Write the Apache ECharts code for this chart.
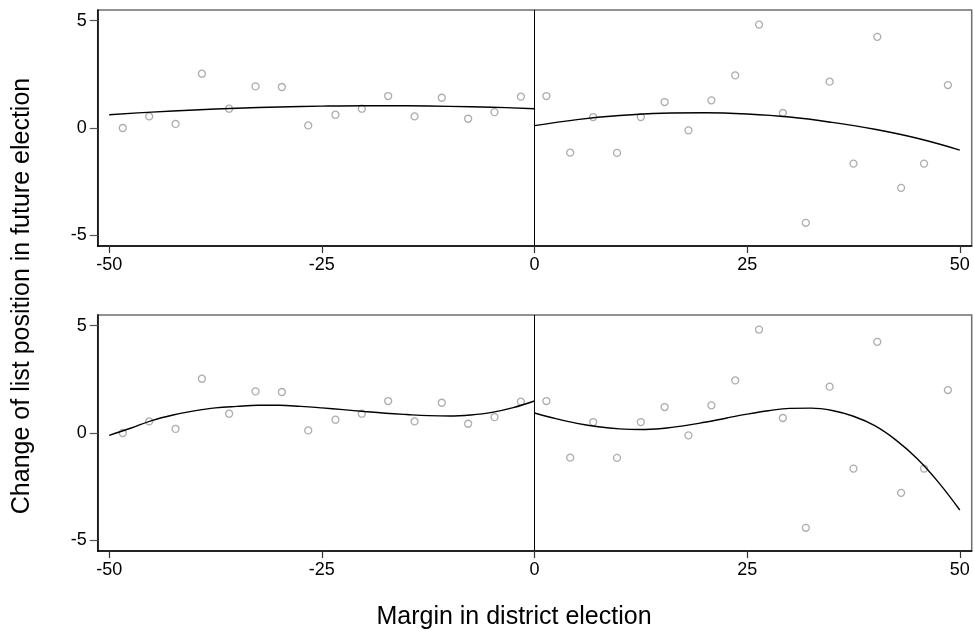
<!DOCTYPE html>
<html>
<head>
<meta charset="utf-8">
<script src="https://cdn.jsdelivr.net/npm/echarts@6/dist/echarts.min.js"></script>
<style>html,body{margin:0;padding:0;background:#fff}#c{width:974px;height:631px}</style>
</head>
<body>
<div id="c"></div>
<script>
// Binned scatter points (same in both panels)
const leftX = [-48.4, -45.3, -42.2, -39.1, -35.9, -32.8, -29.7, -26.6, -23.4, -20.3, -17.2, -14.1, -10.9, -7.8, -4.7, -1.6];
const leftY = [0.0, 0.54, 0.19, 2.53, 0.90, 1.94, 1.91, 0.12, 0.62, 0.90, 1.49, 0.54, 1.41, 0.43, 0.74, 1.46];
const rightX = [1.4, 4.2, 6.9, 9.7, 12.5, 15.3, 18.1, 20.8, 23.6, 26.4, 29.2, 31.9, 34.7, 37.5, 40.3, 43.1, 45.8, 48.6];
const rightY = [1.49, -1.15, 0.51, -1.16, 0.51, 1.21, -0.11, 1.29, 2.45, 4.82, 0.70, -4.42, 2.16, -1.66, 4.25, -2.79, -1.66, 2.00];

// Fitted curves
// Panel 1 (quadratic fits)
const fit1LeftX = [-50, -45, -40, -35, -30, -25, -20, -15, -10, -5, 0];
const fit1LeftY = [0.62, 0.74, 0.84, 0.92, 0.98, 1.02, 1.04, 1.035, 1.01, 0.97, 0.90];
const fit1RightX = [0, 5, 10, 15, 20, 25, 30, 35, 40, 45, 50];
const fit1RightY = [0.11, 0.39, 0.58, 0.69, 0.71, 0.65, 0.51, 0.26, -0.06, -0.48, -1.03];
// Panel 2 (cubic fits)
const fit2LeftX = [-50, -47.5, -45, -42.5, -40, -37.5, -35, -32.5, -30, -27.5, -25, -22.5, -20, -17.5, -15, -12.5, -10, -7.5, -5, -2.5, 0];
const fit2LeftY = [-0.11, 0.22, 0.58, 0.84, 1.03, 1.17, 1.24, 1.29, 1.29, 1.24, 1.17, 1.09, 1.0, 0.92, 0.86, 0.81, 0.79, 0.84, 0.96, 1.18, 1.49];
const fit2RightX = [0, 2.5, 5, 7.5, 10, 12.5, 15, 17.5, 20, 22.5, 25, 27.5, 30, 32.5, 35, 37.5, 40, 42.5, 45, 47.5, 50];
const fit2RightY = [0.93, 0.67, 0.45, 0.29, 0.19, 0.16, 0.21, 0.33, 0.50, 0.69, 0.88, 1.04, 1.15, 1.16, 1.05, 0.78, 0.34, -0.33, -1.20, -2.30, -3.59];

const xTicks = [-50, -25, 0, 25, 50];
const yTicks = [-5, 0, 5];

const xTitle = 'Margin in district election';
const yTitle = 'Change of list position in future election';

const FONT = '"Liberation Sans", Arial, Helvetica, sans-serif';
const zip = (a, b) => a.map((v, i) => [v, b[i]]);

function xAxis(gi) {
  return {
    gridIndex: gi, type: 'value', min: -51.35, max: 51.4,
    splitLine: { show: false },
    axisLine: { show: true, onZero: false, lineStyle: { color: '#000', width: 1.5 } },
    axisTick: { show: true, customValues: xTicks, length: 7, lineStyle: { color: '#333', width: 1.2 } },
    axisLabel: { show: true, customValues: xTicks, margin: 10, color: '#000', fontSize: 18, fontFamily: FONT }
  };
}
function yAxis(gi) {
  return {
    gridIndex: gi, type: 'value', min: -5.5, max: 5.5,
    splitLine: { show: false },
    axisLine: { show: true, onZero: false, lineStyle: { color: '#000', width: 1.5 } },
    axisTick: { show: true, customValues: yTicks, length: 8, lineStyle: { color: '#555', width: 1.2 } },
    axisLabel: { show: true, customValues: yTicks, margin: 11, color: '#000', fontSize: 18, fontFamily: FONT }
  };
}
function scatter(gi, xs, ys) {
  return {
    type: 'scatter', xAxisIndex: gi, yAxisIndex: gi, data: zip(xs, ys),
    symbol: 'circle', symbolSize: 7,
    itemStyle: { color: '#fff', borderColor: '#999', borderWidth: 1.3 },
    silent: true, z: 3
  };
}
function fit(gi, xs, ys, withZero) {
  const s = {
    type: 'line', xAxisIndex: gi, yAxisIndex: gi, data: zip(xs, ys),
    smooth: 0.4, showSymbol: false, symbol: 'none',
    lineStyle: { color: '#000', width: 1.4 }, silent: true, z: 4
  };
  if (withZero) {
    s.markLine = {
      silent: true, symbol: 'none', label: { show: false },
      lineStyle: { color: '#000', width: 1, type: 'solid' },
      data: [{ xAxis: 0 }]
    };
  }
  return s;
}

const chart = echarts.init(document.getElementById('c'), null, { renderer: 'canvas' });
chart.setOption({
  animation: false,
  backgroundColor: '#fff',
  grid: [
    { left: 97.7, top: 10, width: 874, height: 236, show: true, borderColor: '#6e6e6e', borderWidth: 1.5, backgroundColor: 'transparent' },
    { left: 97.7, top: 315, width: 874, height: 236, show: true, borderColor: '#6e6e6e', borderWidth: 1.5, backgroundColor: 'transparent' }
  ],
  xAxis: [xAxis(0), xAxis(1)],
  yAxis: [yAxis(0), yAxis(1)],
  series: [
    scatter(0, leftX, leftY), scatter(0, rightX, rightY),
    fit(0, fit1LeftX, fit1LeftY, true), fit(0, fit1RightX, fit1RightY, false),
    scatter(1, leftX, leftY), scatter(1, rightX, rightY),
    fit(1, fit2LeftX, fit2LeftY, true), fit(1, fit2RightX, fit2RightY, false)
  ],
  graphic: [
    { type: 'text', x: 514, y: 617, style: { text: xTitle, fontSize: 25, fontFamily: FONT, fill: '#000', align: 'center', verticalAlign: 'middle' } },
    { type: 'text', x: 22, y: 296, rotation: Math.PI / 2, style: { text: yTitle, fontSize: 25, fontFamily: FONT, fill: '#000', align: 'center', verticalAlign: 'middle' } }
  ]
});
</script>
</body>
</html>
